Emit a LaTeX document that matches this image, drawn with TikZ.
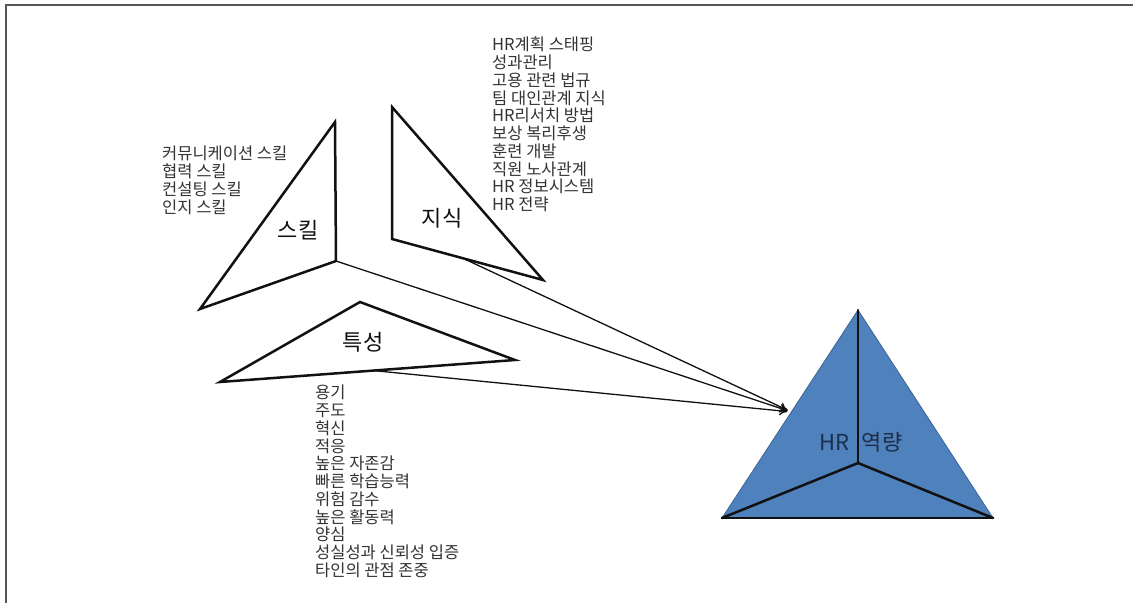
\documentclass[tikz,border=0pt]{standalone}
\usepackage{fontspec}
\setmainfont{Noto Sans CJK KR}
\usetikzlibrary{arrows.meta,calc}
\definecolor{hrink}{HTML}{111111}
\definecolor{hrtext}{HTML}{333333}
\definecolor{hrblue}{HTML}{4F81BD}
\definecolor{hredge}{HTML}{3A6496}
\definecolor{hrnavy}{HTML}{1C2E4A}
\definecolor{hrframe}{HTML}{555555}
\tikzset{
  tri/.style={draw=hrink,line width=2.5pt,line join=miter,fill=white},
  seam/.style={draw=hrink,line width=2.5pt,line cap=round},
  big/.style={font=\fontsize{22}{24}\selectfont,text=hrink,inner sep=0},
  lst/.style={font=\fontsize{16.5}{17.75}\selectfont,text=hrtext,align=left,anchor=north west,inner sep=0},
  lnk/.style={-{To[length=8pt,width=9pt]},line width=1.3pt,draw=hrink},
}

\begin{document}
\begin{tikzpicture}[x=1pt,y=-1pt]
  \useasboundingbox (0,0) rectangle (1133,603);
  \draw[hrframe,line width=1.5pt] (6,603) -- (6,5) -- (1133,5);

  \coordinate (s1) at (335,122); \coordinate (s2) at (336,261); \coordinate (s3) at (200,309);
  \coordinate (k1) at (392,107); \coordinate (k2) at (392,239); \coordinate (k3) at (543,280);
  \coordinate (t1) at (360,302); \coordinate (t2) at (515,360); \coordinate (t3) at (220,382);
  \coordinate (hrtop) at (858,310); \coordinate (hrbl) at (722,518); \coordinate (hrbr) at (993,518);
  \coordinate (hrmid) at (858,463);
  \coordinate (hrin) at ($(hrtop)!0.49!(hrbl)$);
  \coordinate (kout) at ($(k2)!0.47!(k3)$);
  \coordinate (tout) at ($(t3)!0.52!(t2)$);

  \draw[tri] (s1) -- (s2) -- (s3) -- cycle;
  \draw[tri] (k1) -- (k2) -- (k3) -- cycle;
  \draw[tri] (t1) -- (t2) -- (t3) -- cycle;

  \draw[lnk,shorten >=4pt] (kout) -- (hrin);
  \draw[lnk,shorten >=4pt] (s2) -- (hrin);
  \draw[lnk,shorten >=4pt] (tout) -- (hrin);

  \fill[hrblue,draw=hredge,line width=0.8pt] (hrtop) -- (hrbl) -- (hrbr) -- cycle;
  \draw[seam] (hrtop) -- (hrmid);
  \draw[seam] (hrbl) -- (hrmid) -- (hrbr);
  \draw[seam] (hrbl) -- (hrbr);

  \node[big] (skill) at (298,230) {스킬};
  \node[big] (know) at (442,218) {지식};
  \node[big] (trait) at (363,342) {특성};
  \node[big,text=hrnavy] (hr) at (861,442) {HR\hspace{0.55em}역량};

  \node[lst] (skilllist) at (162,146) {커뮤니케이션 스킬\\협력 스킬\\컨설팅 스킬\\인지 스킬};
  \node[lst] (knowlist) at (492,37) {HR계획 스태핑\\성과관리\\고용 관련 법규\\팀 대인관계 지식\\HR리서치 방법\\보상 복리후생\\훈련 개발\\직원 노사관계\\HR 정보시스템\\HR 전략};
  \node[lst] (traitlist) at (315,385) {용기\\주도\\혁신\\적응\\높은 자존감\\빠른 학습능력\\위험 감수\\높은 활동력\\양심\\성실성과 신뢰성 입증\\타인의 관점 존중};
\end{tikzpicture}
\end{document}
